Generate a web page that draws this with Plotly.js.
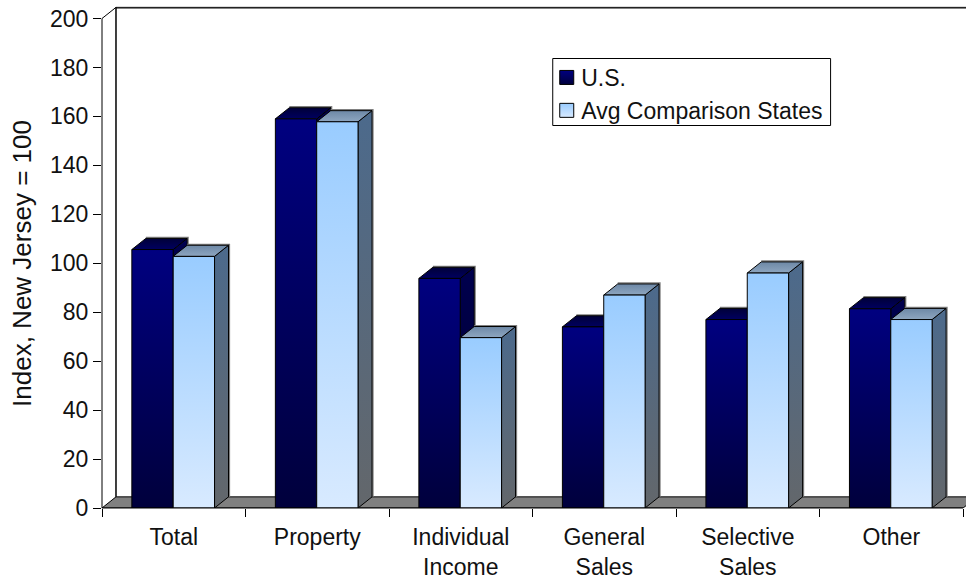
<!DOCTYPE html>
<html>
<head>
<meta charset="utf-8">
<script src="https://cdn.plot.ly/plotly-3.0.1.min.js"></script>
<style>html,body{margin:0;padding:0;background:#fff;}</style>
</head>
<body>
<div id="chart" style="width:966px;height:580px;"></div>
<script>
// Tax index by revenue source, New Jersey = 100
const categories = ["Total", "Property", "Individual<br>Income", "General<br>Sales", "Selective<br>Sales", "Other"];
const usValues = [105.6, 159, 93.8, 74, 77, 81.4];
const comparisonValues = [102.8, 157.8, 69.6, 87, 96, 77];
const yTicks = [0, 20, 40, 60, 80, 100, 120, 140, 160, 180, 200];
const seriesNames = ["U.S.", "Avg Comparison States"];

// Pseudo-3D extrusion, in axis units
const depthX = 0.0975;
const depthY = 4.55;
const barWidth = 0.288;
const barShift = -0.004;
const outline = "#000";

// The plot area reaches past the 200 tick and the last category so the
// receding faces are not clipped; the axis lines are drawn as shapes.
const W = 966, H = 580;
const xMin = -0.5, xMax = 5.5, yMax = 200;
const margin = {l: 101.5, r: 0, t: 5, b: 72, pad: 0};
const plotW = W - margin.l - margin.r, plotH = H - margin.t - margin.b;
const xRangeTop = xMin + plotW / 143.6;
const yRangeTop = yMax * plotH / 489.5;

function polygon(xs, ys, gradient) {
  return {
    type: "scatter", mode: "lines", x: xs, y: ys, fill: "toself",
    fillgradient: {type: "vertical", colorscale: [[0, gradient[0]], [1, gradient[1]]]},
    line: {color: outline, width: 1},
    showlegend: false, hoverinfo: "skip"
  };
}

function edge(xs, ys, color, width) {
  return {
    type: "scatter", mode: "lines", x: xs, y: ys,
    line: {color: color, width: width}, showlegend: false, hoverinfo: "skip"
  };
}

// One box: soft back edge, side and top faces, then the front face
function box(left, value, palette) {
  const right = left + barWidth;
  return [
    edge([left + depthX, right + depthX + 0.006, right + depthX + 0.006],
         [value + depthY + 0.35, value + depthY + 0.35, depthY], "#808080", 1.5),
    polygon([right, right + depthX, right + depthX, right, right],
            [0, depthY, value + depthY, value, 0], palette.side),
    polygon([left, left + depthX, right + depthX, right, left],
            [value, value + depthY, value + depthY, value, value], palette.top),
    polygon([left, right, right, left, left], [0, 0, value, value, 0], palette.front)
  ];
}

const usPalette = {
  front: ["#00003c", "#000080"], side: ["#000028", "#00004e"], top: ["#000060", "#000038"]
};
const comparisonPalette = {
  front: ["#d8eaff", "#99ccff"], side: ["#63676b", "#4c6a8c"], top: ["#8ea6c0", "#6d88a6"]
};

const traces = [];

// Back wall edges
traces.push(edge([xMin + depthX, xMax + 1],
                 [yMax + depthY - 0.45, yMax + depthY - 0.45], "#808080", 1));
traces.push(edge([xMin, xMin + depthX, xMin + depthX, xMin + depthX, xMax + 1],
                 [yMax, yMax + depthY, depthY, yMax + depthY, yMax + depthY], "#000", 1));
// Floor
traces.push({
  type: "scatter", mode: "lines", showlegend: false, hoverinfo: "skip",
  x: [xMin, xMin + depthX, xMax + depthX, xMax, xMin],
  y: [0, depthY, depthY, 0, 0],
  fill: "toself", fillcolor: "#808080", line: {color: "#000", width: 1}
});

categories.forEach(function (c, i) {
  traces.push.apply(traces, box(i + barShift - barWidth, usValues[i], usPalette));
  traces.push.apply(traces, box(i + barShift, comparisonValues[i], comparisonPalette));
});

// Legend entries
traces.push({
  type: "scatter", mode: "markers", name: seriesNames[0], x: [null], y: [null],
  marker: {symbol: "square", size: 14, color: "#000080",
           gradient: {type: "vertical", color: "#00003c"}, line: {color: "#000", width: 1}}
});
traces.push({
  type: "scatter", mode: "markers", name: seriesNames[1], x: [null], y: [null],
  marker: {symbol: "square", size: 14, color: "#99ccff",
           gradient: {type: "vertical", color: "#d8eaff"}, line: {color: "#000", width: 1}}
});

const font = {family: '"Liberation Sans", Arial, sans-serif', size: 23, color: "#111"};
const titleFont = {family: font.family, size: 26, color: "#111"};

const layout = {
  width: W, height: H, margin: margin, paper_bgcolor: "#fff", plot_bgcolor: "rgba(0,0,0,0)",
  font: font, showlegend: true, hovermode: false,
  xaxis: {
    range: [xMin, xRangeTop], tickmode: "array",
    tickvals: categories.map(function (c, i) { return i; }), ticktext: categories,
    ticks: "", showgrid: false, zeroline: false, showline: false,
    ticklabelstandoff: 13, tickangle: 0,
    minor: {tickmode: "array", tickvals: [-0.5, 0.5, 1.5, 2.5, 3.5, 4.5, 5.5],
            ticks: "outside", ticklen: 8, tickwidth: 1, tickcolor: "#000", showgrid: false}
  },
  yaxis: {
    range: [0, yRangeTop], tickmode: "array", tickvals: yTicks, ticks: "outside", ticklen: 8,
    tickwidth: 1, tickcolor: "#000", showgrid: false, zeroline: false, showline: false,
    title: {text: "Index, New Jersey = 100", font: titleFont, standoff: 10}
  },
  legend: {
    x: (541 - margin.l) / plotW, y: 1 - (56 - margin.t) / plotH, xanchor: "left", yanchor: "top",
    bgcolor: "rgba(0,0,0,0)", borderwidth: 0, font: font, tracegroupgap: 0
  },
  shapes: [
    {type: "rect", xref: "paper", yref: "paper", layer: "below",
     x0: (552.5 - margin.l) / plotW, x1: (830.5 - margin.l) / plotW,
     y0: 1 - (125.5 - margin.t) / plotH, y1: 1 - (58.5 - margin.t) / plotH,
     line: {color: "#000", width: 1}, fillcolor: "#fff"},
    // Axis lines, ending at the last tick on each axis
    {type: "line", xref: "paper", yref: "y", layer: "above", x0: 0, x1: 0, y0: 0, y1: yMax,
     line: {color: "#000", width: 1}},
    {type: "line", xref: "x", yref: "paper", layer: "above", x0: xMin, x1: xMax, y0: 0, y1: 0,
     line: {color: "#000", width: 1}}
  ]
};

Plotly.newPlot("chart", traces, layout, {displayModeBar: false, staticPlot: true}).then(function (gd) {
  // Pull the legend swatches in next to their labels
  gd.querySelectorAll(".legendpoints").forEach(function (p) {
    p.setAttribute("transform", "translate(5.5,0)");
  });
  // Centre the axis title on the 0-200 span rather than the whole plot area
  const title = gd.querySelector(".ytitle");
  if (title) {
    title.setAttribute("transform", "translate(0,7) " + (title.getAttribute("transform") || ""));
  }
});
</script>
</body>
</html>
